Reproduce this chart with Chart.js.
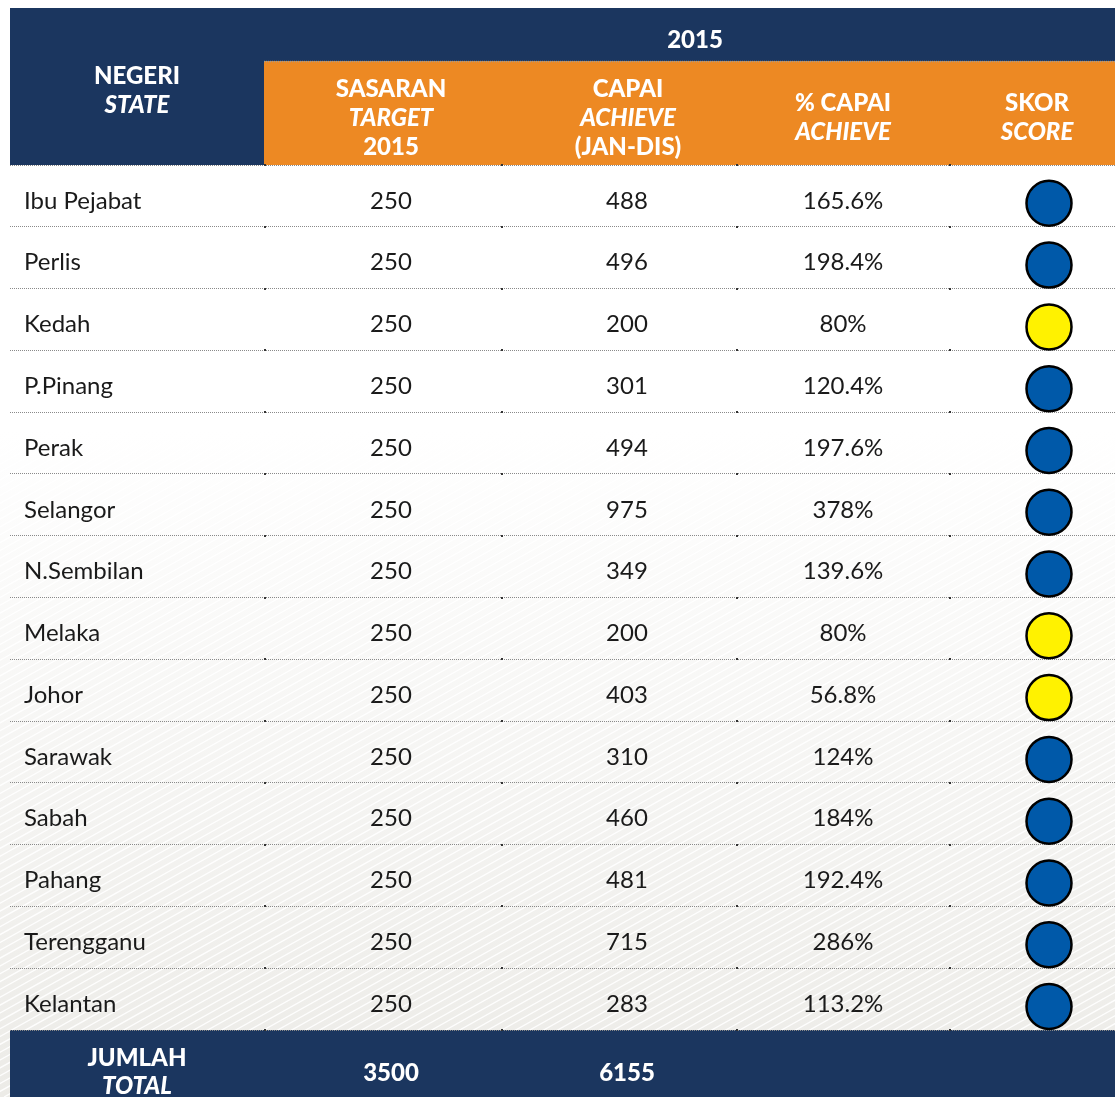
<!DOCTYPE html>
<html>
<head>
<meta charset="utf-8">
<script src="https://cdn.jsdelivr.net/npm/chart.js@4.4.0/dist/chart.umd.min.js"></script>
<style>
  html, body { margin: 0; padding: 0; background: #fff; }
  #wrap { width: 1115px; height: 1097px; }
</style>
</head>
<body>
<div id="wrap"><canvas id="scoreTable" width="1115" height="1097"></canvas></div>
<script>
// data
const states = ["Ibu Pejabat", "Perlis", "Kedah", "P.Pinang", "Perak", "Selangor", "N.Sembilan",
  "Melaka", "Johor", "Sarawak", "Sabah", "Pahang", "Terengganu", "Kelantan"];
const target = [250, 250, 250, 250, 250, 250, 250, 250, 250, 250, 250, 250, 250, 250];
const achieve = [488, 496, 200, 301, 494, 975, 349, 200, 403, 310, 460, 481, 715, 283];
const pctAchieve = [165.6, 198.4, 80, 120.4, 197.6, 378, 139.6, 80, 56.8, 124, 184, 192.4, 286, 113.2];
const score = ["biru", "biru", "kuning", "biru", "biru", "biru", "biru", "kuning", "kuning", "biru", "biru", "biru", "biru", "biru"];
const totals = [3500, 6155];

const yearLabel = "2015";
const stateHeader = [["NEGERI", false], ["STATE", true]];
const colHeaders = [
  [["SASARAN", false], ["TARGET", true], ["2015", false]],
  [["CAPAI", false], ["ACHIEVE", true], ["(JAN-DIS)", false]],
  [["% CAPAI", false], ["ACHIEVE", true]],
  [["SKOR", false], ["SCORE", true]]
];
const totalHeader = [["JUMLAH", false], ["TOTAL", true]];

// layout
const NAVY = "#1b365f";
const ORANGE = "#ed8923";
const scoreColors = { biru: "#0059a9", kuning: "#fff200" };
const colX = { state: 24, target: 391, achieve: 627, pct: 843, skor: 1049 };
const headX = [391, 628, 843, 1037];
const colEdges = [265, 502, 737, 950];
const FONT = "Lato, 'Open Sans', sans-serif";
const HEAD_FONT = "900 24px " + FONT;

const fmtPct = v => v + "%";

function headLines(ctx, lines, x, y0, gap) {
  lines.forEach((l, i) => {
    ctx.font = (l[1] ? "italic " : "") + HEAD_FONT;
    ctx.fillText(l[0], x, y0 + i * gap);
  });
}

const tablePlugin = {
  id: "tablePlugin",
  beforeDraw(chart) {
    const ctx = chart.ctx;
    const W = chart.width, H = chart.height;
    ctx.save();
    ctx.fillStyle = "#fff";
    ctx.fillRect(0, 0, W, H);
    // soft grey fade with hatching toward the bottom
    const g = ctx.createLinearGradient(0, 430, 0, H);
    g.addColorStop(0, "rgba(236,235,231,0)");
    g.addColorStop(1, "rgba(236,235,231,1)");
    ctx.fillStyle = g;
    ctx.fillRect(0, 0, W, H);
    ctx.strokeStyle = "rgba(255,255,255,0.9)";
    ctx.lineWidth = 1.4;
    for (let x = -1200; x < W + 200; x += 14) {
      ctx.beginPath();
      ctx.moveTo(x, H);
      ctx.lineTo(x + 1300, H - 1300 * 0.56);
      ctx.stroke();
    }

    // header blocks
    ctx.fillStyle = NAVY;
    ctx.fillRect(10, 8, W - 10, 157);
    ctx.fillStyle = ORANGE;
    ctx.fillRect(264, 61, W - 264, 104);
    ctx.strokeStyle = "#9a9a9a";
    ctx.setLineDash([1, 1]);
    ctx.beginPath();
    ctx.moveTo(264, 61.5);
    ctx.lineTo(W, 61.5);
    ctx.stroke();
    ctx.setLineDash([]);

    // footer block
    const bottom = chart.chartArea.bottom;
    ctx.fillStyle = NAVY;
    ctx.fillRect(10, bottom, W - 10, H - bottom);

    ctx.fillStyle = "#fff";
    ctx.textAlign = "center";
    ctx.textBaseline = "middle";
    ctx.font = HEAD_FONT;
    ctx.fillText(yearLabel, 695, 40);
    headLines(ctx, stateHeader, 137, 76, 29);
    colHeaders.forEach((lines, i) => {
      const y0 = lines.length === 3 ? 89 : 103;
      headLines(ctx, lines, headX[i], y0, 29);
    });
    headLines(ctx, totalHeader, 137, 1058, 28);
    ctx.font = HEAD_FONT;
    ctx.fillText(String(totals[0]), colX.target, 1073);
    ctx.fillText(String(totals[1]), colX.achieve, 1073);
    ctx.restore();
  },
  afterDraw(chart) {
    const ctx = chart.ctx;
    const yS = chart.scales.y;
    ctx.save();
    // small column marks on the row rules
    ctx.fillStyle = "#333";
    for (let i = 0; i <= states.length; i++) {
      const py = Math.round(yS.getPixelForValue(i));
      colEdges.forEach(ex => ctx.fillRect(ex - 1, py - 1, 2, 2));
    }
    ctx.fillStyle = "#1a1a1a";
    ctx.textBaseline = "middle";
    ctx.font = "24px " + FONT;
    states.forEach((s, i) => {
      const py = yS.getPixelForValue(i + 0.5) + 5;
      ctx.textAlign = "left";
      ctx.fillText(s, colX.state, py);
      ctx.textAlign = "center";
      ctx.fillText(String(target[i]), colX.target, py);
      ctx.fillText(String(achieve[i]), colX.achieve, py);
      ctx.fillText(fmtPct(pctAchieve[i]), colX.pct, py);
    });
    ctx.restore();
  }
};

const DOT_SHIFT = 0.12;

new Chart(document.getElementById("scoreTable"), {
  type: "scatter",
  data: {
    datasets: [{
      data: states.map((s, i) => ({ x: colX.skor, y: i + 0.5 + DOT_SHIFT })),
      pointRadius: 22.5,
      pointHoverRadius: 22.5,
      pointBackgroundColor: score.map(s => scoreColors[s]),
      pointBorderColor: "#000",
      pointBorderWidth: 2.5,
      clip: false
    }]
  },
  options: {
    responsive: false,
    animation: false,
    devicePixelRatio: 1,
    layout: { autoPadding: false, padding: { left: 10, right: 0, top: 165, bottom: 67 } },
    plugins: { legend: { display: false }, tooltip: { enabled: false } },
    events: [],
    scales: {
      x: { type: "linear", min: 10, max: 1115, display: false },
      y: {
        type: "linear",
        min: 0,
        max: states.length,
        reverse: true,
        afterFit: s => { s.width = 0; },
        ticks: { display: false, stepSize: 1, maxTicksLimit: 40 },
        grid: { color: "#8a8a8a", lineWidth: 1, drawTicks: false },
        border: { display: false, dash: [1, 1] }
      }
    }
  },
  plugins: [tablePlugin]
});
</script>
</body>
</html>
